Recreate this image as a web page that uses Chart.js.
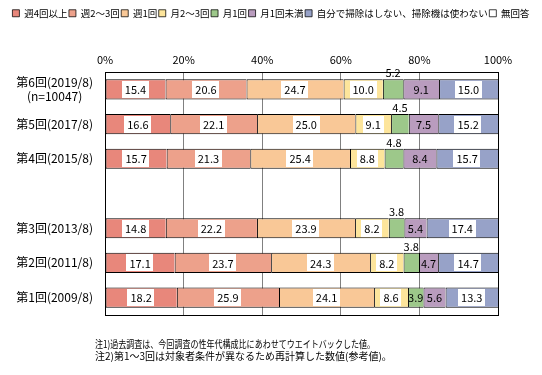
<!DOCTYPE html>
<html><head><meta charset="utf-8">
<script src="https://cdn.jsdelivr.net/npm/chart.js@4"></script>
<style>html,body{margin:0;padding:0;background:#fff}</style>
</head><body>
<canvas id="c" width="542" height="375"></canvas>
<script>
// ---- data ----
const categories = [['第6回(2019/8)', '(n=10047)'], '第5回(2017/8)', '第4回(2015/8)', '', '第3回(2013/8)', '第2回(2011/8)', '第1回(2009/8)'];
const seriesNames = ['週4回以上', '週2～3回', '週1回', '月2～3回', '月1回', '月1回未満', '自分で掃除はしない、掃除機は使わない', '無回答'];
const week4plus   = [15.4, 16.6, 15.7, null, 14.8, 17.1, 18.2];
const week2to3    = [20.6, 22.1, 21.3, null, 22.2, 23.7, 25.9];
const week1       = [24.7, 25.0, 25.4, null, 23.9, 24.3, 24.1];
const month2to3   = [10.0,  9.1,  8.8, null,  8.2,  8.2,  8.6];
const month1      = [ 5.2,  4.5,  4.8, null,  3.8,  3.8,  3.9];
const lessMonthly = [ 9.1,  7.5,  8.4, null,  5.4,  4.7,  5.6];
const noCleaning  = [15.0, 15.2, 15.7, null, 17.4, 14.7, 13.3];
const noAnswer    = [   0,    0,    0, null,    0,    0,    0];
const xTicks = [0, 20, 40, 60, 80, 100];
const notes = ['注1)過去調査は、今回調査の性年代構成比にあわせてウエイトバックした値。', '注2)第1～3回は対象者条件が異なるため再計算した数値(参考値)。'];

const series = [week4plus, week2to3, week1, month2to3, month1, lessMonthly, noCleaning, noAnswer];
const colors = ['#E8877B', '#EDA18B', '#F9C897', '#FDE59B', '#9DC88A', '#B99CBE', '#97A2C8', '#FFFFFF'];

// bars are 100% stacked: each row normalised by its total, labels show raw values
const rowTotals = categories.map((_, j) => series.reduce((s, arr) => s + (arr[j] || 0), 0));
const datasets = series.map((arr, i) => ({
  label: seriesNames[i],
  raw: arr,
  data: arr.map((v, j) => v == null ? null : v / rowTotals[j] * 100),
  backgroundColor: colors[i],
  borderColor: '#000',
  borderWidth: { top: 1, bottom: 1, left: 1, right: 0 },
  borderSkipped: false,
  barPercentage: 0.58,
  categoryPercentage: 1
}));

const FONT = '"Noto Sans CJK JP", "Noto Sans", sans-serif';

const decor = {
  id: 'decor',
  beforeLayout(chart) {
    const lg = chart.legend;
    if (lg && !lg._patched) {
      const orig = lg.fit;
      lg.fit = function () { orig.call(this); this.height = 24; };
      lg._patched = true;
    }
  },
  afterDatasetsDraw(chart) {
    const ctx = chart.ctx, a = chart.chartArea;
    ctx.save();
    ctx.strokeStyle = '#000';
    ctx.lineWidth = 1;
    ctx.strokeRect(Math.round(a.left) + 0.5, Math.round(a.top) + 0.5, Math.round(a.right - a.left), Math.round(a.bottom - a.top));
    ctx.font = '11px ' + FONT;
    ctx.textAlign = 'center';
    ctx.textBaseline = 'middle';
    chart.data.datasets.forEach((ds, i) => {
      const meta = chart.getDatasetMeta(i);
      meta.data.forEach((el, j) => {
        const v = ds.raw[j];
        if (v == null || v === 0) return;
        const txt = v.toFixed(1);
        const cx = (el.x + el.base) / 2;
        let cy = el.y;
        if (i === 4 && j !== categories.length - 1) {
          cy = el.y - el.height / 2 - 6;
          ctx.fillStyle = '#000';
          ctx.fillText(txt, cx, cy);
          return;
        }
        if (i !== 4 && i !== 5) {
          const w = ctx.measureText(txt).width + 6;
          const h = el.height - 3;
          ctx.fillStyle = '#fff';
          ctx.fillRect(Math.round(cx - w / 2), Math.round(cy - h / 2), Math.round(w), Math.round(h));
        }
        ctx.fillStyle = '#000';
        ctx.fillText(txt, cx, cy + 0.5);
      });
    });
    ctx.restore();
  },
  afterDraw(chart) {
    const ctx = chart.ctx;
    ctx.save();
    ctx.font = '10px ' + FONT;
    ctx.fillStyle = '#000';
    ctx.textAlign = 'left';
    ctx.textBaseline = 'middle';
    ctx.fillText(notes[0], 95, 344, 280);
    ctx.fillText(notes[1], 95, 356, 298);
    ctx.restore();
  }
};

new Chart(document.getElementById('c'), {
  type: 'bar',
  data: { labels: categories, datasets },
  plugins: [decor],
  options: {
    responsive: false,
    animation: false,
    indexAxis: 'y',
    layout: { padding: { left: 0, right: 0, top: 7, bottom: 60 } },
    plugins: {
      tooltip: { enabled: false },
      legend: {
        position: 'top',
        labels: {
          boxWidth: 7, boxHeight: 7, padding: 1.5,
          color: '#000',
          font: { family: FONT, size: 9.5 }
        }
      }
    },
    scales: {
      x: {
        stacked: true, position: 'top', min: 0, max: 100,
        afterBuildTicks(s) { s.ticks = xTicks.map(v => ({ value: v })); },
        afterFit(s) { s.height = 41; },
        ticks: { callback: v => v + '%', color: '#000', font: { family: FONT, size: 11 }, padding: 6 },
        grid: { drawTicks: false, color: c => (c.tick && (c.tick.value === 0 || c.tick.value === 100)) ? '#000' : '#808080' },
        border: { display: false }
      },
      y: {
        stacked: true,
        afterFit(s) { s.width = 105; },
        ticks: { color: '#000', font: { family: FONT, size: 12 }, padding: 12, crossAlign: 'center', autoSkip: false },
        grid: { display: false, drawTicks: false },
        border: { display: false }
      },
      yRight: {
        type: 'linear', position: 'right', display: true,
        afterFit(s) { s.width = 44; },
        ticks: { display: false },
        grid: { display: false, drawTicks: false },
        border: { display: false }
      }
    }
  }
});
</script>
</body></html>
